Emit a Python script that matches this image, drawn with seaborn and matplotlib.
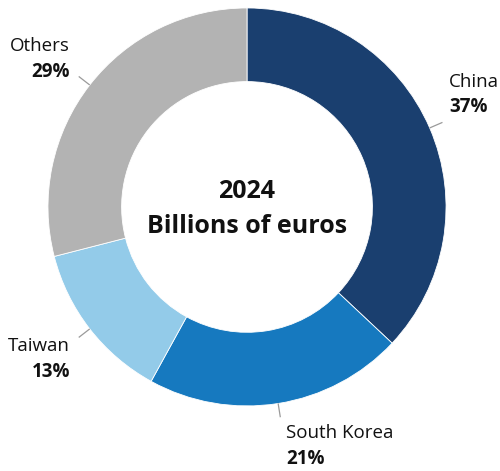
import numpy as np
import matplotlib
matplotlib.use("Agg")
import matplotlib.pyplot as plt
import seaborn as sns

# Share of the total by origin, 2024
countries = ["China", "South Korea", "Taiwan", "Others"]
shares = [37, 21, 13, 29]
colors = ["#1a3f6f", "#1679bf", "#93cbe9", "#b3b3b3"]

sns.set_theme(style="white")
plt.rcParams["font.family"] = ["Open Sans", "DejaVu Sans"]

fig = plt.figure(figsize=(5.0, 4.71), dpi=100)
ax = fig.add_axes([0, 0, 1, 1])

wedges, _ = ax.pie(
    shares,
    colors=sns.color_palette(colors),
    startangle=90,
    counterclock=False,
    radius=1.0,
    wedgeprops=dict(width=0.37, edgecolor="white", linewidth=0.6),
    frame=True,
)
ax.set_xlim(-1.241, 1.271)
ax.set_ylim(-1.327, 1.040)
ax.set_aspect("auto")
ax.axis("off")

# label anchor points (in data units) and alignment for each slice
label_pos = {
    "China": (1.015, 0.605, "left"),
    "South Korea": (0.196, -1.16, "left"),
    "Taiwan": (-0.889, -0.725, "right"),
    "Others": (-0.889, 0.785, "right"),
}

for w, name, val in zip(wedges, countries, shares):
    mid = np.deg2rad((w.theta1 + w.theta2) / 2)
    dx, dy = np.cos(mid), np.sin(mid)
    ax.plot([dx * 1.0, dx * 1.07], [dy * 1.0, dy * 1.07],
            color="#9a9a9a", lw=0.9, solid_capstyle="butt")
    x, y, ha = label_pos[name]
    ax.text(x, y, name, ha=ha, va="baseline", fontsize=13.5, color="#111111")
    ax.text(x, y - 0.13, f"{val}%", ha=ha, va="baseline", fontsize=13.5,
            fontweight="bold", color="#111111")

ax.text(0, 0.08, "2024", ha="center", va="center", fontsize=18,
        fontweight="bold", color="#111111")
ax.text(0, -0.1, "Billions of euros", ha="center", va="center", fontsize=18,
        fontweight="bold", color="#111111")

fig.savefig("out.png", dpi=100)
